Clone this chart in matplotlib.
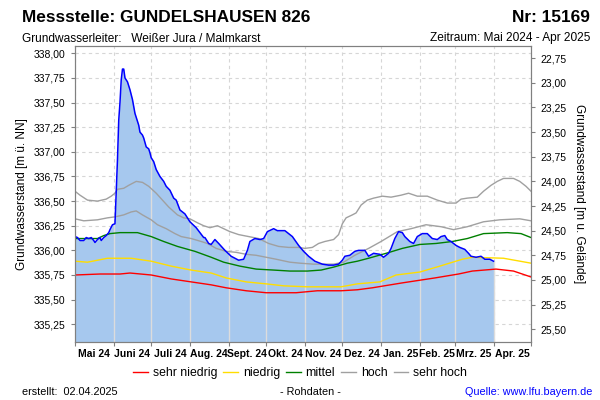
import numpy as np
import pandas as pd
import matplotlib
matplotlib.use('Agg')
import matplotlib.pyplot as plt
import matplotlib.dates as mdates
from matplotlib.lines import Line2D
from matplotlib.ticker import FuncFormatter

plt.rcParams['font.family'] = ['Liberation Sans', 'DejaVu Sans']

mess_datum = ['2024-05-01', '2024-05-03', '2024-05-05', '2024-05-08', '2024-05-10', '2024-05-12',
              '2024-05-14', '2024-05-16', '2024-05-17', '2024-05-19', '2024-05-21', '2024-05-22',
              '2024-05-24', '2024-05-26', '2024-05-28', '2024-05-29', '2024-05-31', '2024-06-02',
              '2024-06-04', '2024-06-05', '2024-06-06', '2024-06-07', '2024-06-08', '2024-06-09',
              '2024-06-10', '2024-06-12', '2024-06-13', '2024-06-14', '2024-06-16', '2024-06-17',
              '2024-06-18', '2024-06-20', '2024-06-21', '2024-06-22', '2024-06-24', '2024-06-25',
              '2024-06-27', '2024-06-29', '2024-06-30', '2024-07-01', '2024-07-03', '2024-07-05',
              '2024-07-08', '2024-07-11', '2024-07-13', '2024-07-16', '2024-07-19', '2024-07-21',
              '2024-07-24', '2024-07-28', '2024-08-01', '2024-08-06', '2024-08-12', '2024-08-13',
              '2024-08-16', '2024-08-18', '2024-08-21', '2024-08-24', '2024-08-29', '2024-09-03',
              '2024-09-09', '2024-09-13', '2024-09-16', '2024-09-18', '2024-09-22', '2024-09-26',
              '2024-09-29', '2024-10-02', '2024-10-07', '2024-10-10', '2024-10-16', '2024-10-22',
              '2024-10-27', '2024-10-31', '2024-11-04', '2024-11-09', '2024-11-15', '2024-11-20',
              '2024-11-24', '2024-11-28', '2024-12-01', '2024-12-03', '2024-12-07', '2024-12-11',
              '2024-12-14', '2024-12-17', '2024-12-19', '2024-12-22', '2024-12-26', '2024-12-31',
              '2025-01-03', '2025-01-07', '2025-01-09', '2025-01-12', '2025-01-15', '2025-01-18',
              '2025-01-20', '2025-01-24', '2025-01-27', '2025-01-30', '2025-02-03', '2025-02-07',
              '2025-02-11', '2025-02-15', '2025-02-18', '2025-02-21', '2025-02-23', '2025-02-26',
              '2025-03-02', '2025-03-05', '2025-03-09', '2025-03-12', '2025-03-14', '2025-03-18',
              '2025-03-22', '2025-03-25', '2025-03-29', '2025-04-01']
mess_wert = [336.14, 336.13, 336.10, 336.10, 336.13, 336.12,
             336.13, 336.10, 336.08, 336.11, 336.13, 336.10,
             336.13, 336.15, 336.18, 336.21, 336.26, 336.27,
             336.92, 337.32, 337.50, 337.73, 337.84, 337.84,
             337.75, 337.71, 337.67, 337.63, 337.53, 337.46,
             337.39, 337.31, 337.27, 337.20, 337.17, 337.14,
             337.05, 337.03, 336.99, 336.94, 336.90, 336.82,
             336.75, 336.70, 336.65, 336.61, 336.53, 336.51,
             336.41, 336.37, 336.29, 336.23, 336.13, 336.13,
             336.07, 336.06, 336.11, 336.07, 336.00, 335.94,
             335.90, 335.91, 336.00, 336.09, 336.12, 336.11,
             336.12, 336.19, 336.22, 336.20, 336.20, 336.14,
             336.05, 335.99, 335.94, 335.89, 335.86, 335.85,
             335.85, 335.86, 335.90, 335.94, 335.95, 335.99,
             336.00, 336.00, 336.00, 335.94, 335.97, 335.96,
             335.93, 335.97, 336.02, 336.12, 336.19, 336.18,
             336.14, 336.09, 336.07, 336.14, 336.17, 336.17,
             336.12, 336.11, 336.14, 336.15, 336.11, 336.09,
             336.05, 336.03, 336.01, 335.97, 335.94, 335.93,
             335.94, 335.91, 335.91, 335.89]

# langjaehrige Kennlinien
sh_datum = ['2024-05-01', '2024-05-05', '2024-05-11', '2024-05-19', '2024-05-26', '2024-05-30',
            '2024-06-02', '2024-06-04', '2024-06-09', '2024-06-13', '2024-06-19', '2024-06-24',
            '2024-06-29', '2024-07-05', '2024-07-10', '2024-07-15', '2024-07-22', '2024-07-27',
            '2024-08-01', '2024-08-07', '2024-08-12', '2024-08-17', '2024-08-23', '2024-08-28',
            '2024-09-02', '2024-09-09', '2024-09-17', '2024-09-25', '2024-10-03', '2024-10-11',
            '2024-10-19', '2024-10-27', '2024-11-01', '2024-11-07', '2024-11-12', '2024-11-17',
            '2024-11-24', '2024-11-28', '2024-12-01', '2024-12-04', '2024-12-09', '2024-12-12',
            '2024-12-16', '2024-12-21', '2024-12-26', '2025-01-02', '2025-01-09', '2025-01-17',
            '2025-01-23', '2025-01-30', '2025-02-07', '2025-02-15', '2025-02-23', '2025-03-02',
            '2025-03-06', '2025-03-11', '2025-03-19', '2025-03-24', '2025-03-30', '2025-04-04',
            '2025-04-09', '2025-04-17', '2025-04-22', '2025-04-27', '2025-05-01']
sh_wert = [336.60, 336.56, 336.51, 336.50, 336.52, 336.55,
           336.58, 336.62, 336.63, 336.66, 336.70, 336.69,
           336.65, 336.58, 336.51, 336.44, 336.36, 336.33,
           336.32, 336.28, 336.25, 336.23, 336.25, 336.22,
           336.19, 336.16, 336.14, 336.12, 336.07, 336.04,
           336.03, 336.03, 336.02, 336.03, 336.07, 336.09,
           336.11, 336.16, 336.27, 336.33, 336.36, 336.38,
           336.46, 336.51, 336.53, 336.55, 336.54, 336.56,
           336.58, 336.55, 336.55, 336.51, 336.48, 336.48,
           336.52, 336.53, 336.54, 336.60, 336.66, 336.70,
           336.73, 336.73, 336.70, 336.65, 336.60]

h_datum = ['2024-05-01', '2024-05-08', '2024-05-19', '2024-05-27', '2024-06-02', '2024-06-09',
           '2024-06-15', '2024-06-19', '2024-06-24', '2024-07-01', '2024-07-06', '2024-07-13',
           '2024-07-20', '2024-07-25', '2024-08-02', '2024-08-10', '2024-08-15', '2024-08-22',
           '2024-08-30', '2024-09-07', '2024-09-15', '2024-09-23', '2024-10-01', '2024-10-09',
           '2024-10-20', '2024-10-28', '2024-11-08', '2024-11-16', '2024-11-24', '2024-12-02',
           '2024-12-11', '2024-12-22', '2025-01-01', '2025-01-14', '2025-01-25', '2025-02-06',
           '2025-02-18', '2025-02-28', '2025-03-11', '2025-03-24', '2025-04-06', '2025-04-22',
           '2025-05-01']
h_wert = [336.32, 336.30, 336.31, 336.33, 336.34, 336.36,
          336.39, 336.40, 336.36, 336.31, 336.26, 336.22,
          336.17, 336.14, 336.12, 336.09, 336.07, 336.02,
          335.99, 335.98, 335.96, 335.95, 335.93, 335.91,
          335.88, 335.87, 335.86, 335.86, 335.86, 335.88,
          335.95, 336.02, 336.09, 336.19, 336.22, 336.26,
          336.24, 336.21, 336.24, 336.29, 336.31, 336.32,
          336.30]

m_datum = ['2024-05-01', '2024-05-19', '2024-05-24', '2024-05-29', '2024-06-06', '2024-06-20',
           '2024-07-01', '2024-07-11', '2024-07-22', '2024-08-05', '2024-08-18', '2024-08-28',
           '2024-09-10', '2024-09-23', '2024-10-07', '2024-10-20', '2024-11-03', '2024-11-14',
           '2024-11-24', '2024-12-05', '2024-12-13', '2024-12-22', '2025-01-05', '2025-01-18',
           '2025-02-01', '2025-02-14', '2025-02-27', '2025-03-11', '2025-03-24', '2025-04-12',
           '2025-04-23', '2025-05-01']
m_wert = [336.12, 336.12, 336.15, 336.17, 336.18, 336.18,
          336.14, 336.09, 336.04, 335.99, 335.93, 335.88,
          335.84, 335.81, 335.80, 335.79, 335.79, 335.80,
          335.83, 335.87, 335.89, 335.92, 335.97, 336.02,
          336.06, 336.07, 336.09, 336.12, 336.17, 336.18,
          336.17, 336.13]

n_datum = ['2024-05-01', '2024-05-11', '2024-05-19', '2024-05-27', '2024-06-15', '2024-07-01',
           '2024-07-17', '2024-08-02', '2024-08-18', '2024-08-30', '2024-09-15', '2024-10-01',
           '2024-10-15', '2024-11-03', '2024-11-30', '2024-12-13', '2024-12-31', '2025-01-13',
           '2025-02-01', '2025-02-17', '2025-03-07', '2025-03-15', '2025-04-09', '2025-05-01']
n_wert = [335.89, 335.88, 335.90, 335.92, 335.92, 335.89,
          335.84, 335.80, 335.77, 335.72, 335.68, 335.66,
          335.64, 335.63, 335.63, 335.66, 335.68, 335.75,
          335.78, 335.84, 335.91, 335.93, 335.92, 335.87]

sn_datum = ['2024-05-01', '2024-05-21', '2024-06-06', '2024-06-14', '2024-07-01', '2024-07-17',
            '2024-08-02', '2024-08-18', '2024-08-30', '2024-09-15', '2024-10-01', '2024-10-25',
            '2024-11-11', '2024-11-30', '2024-12-13', '2024-12-25', '2025-01-18', '2025-02-13',
            '2025-03-04', '2025-03-15', '2025-04-03', '2025-04-17', '2025-05-01']
sn_wert = [335.75, 335.76, 335.76, 335.77, 335.75, 335.71,
           335.68, 335.65, 335.62, 335.59, 335.57, 335.57,
           335.59, 335.59, 335.60, 335.62, 335.67, 335.72,
           335.76, 335.79, 335.81, 335.79, 335.73]

monat_label = ['Mai 24', 'Juni 24', 'Juli 24', 'Aug. 24', 'Sept. 24', 'Okt. 24',
               'Nov. 24', 'Dez. 24', 'Jan. 25', 'Feb. 25', 'Mrz. 25', 'Apr. 25']
y_ticks = np.arange(335.25, 338.01, 0.25)
y2_ticks = np.arange(22.75, 25.51, 0.25)
gelaende = 360.70
y_min, y_max = 335.07, 338.074


def komma(v, pos):
    return f'{v:.2f}'.replace('.', ',')


fig = plt.figure(figsize=(6, 4), dpi=100)
ax = fig.add_axes([75 / 600, 58 / 400, 456 / 600, 296 / 400])

mx = mdates.date2num(pd.to_datetime(mess_datum))
ax.fill_between(mx, mess_wert, y_min, color='#a6c8ee', lw=0, zorder=1)

# Monatslinien in der Flaeche
monate = pd.date_range('2024-05-01', '2025-05-01', freq='MS')
mn = mdates.date2num(monate)
for m in mn[1:]:
    if m <= mx[-1]:
        ax.vlines(m, y_min, np.interp(m, mx, mess_wert), color='#dcdcdc', lw=1, zorder=1.5)

kennlinien = [
    (sh_datum, sh_wert, '#a0a0a0'),
    (h_datum, h_wert, '#a0a0a0'),
    (m_datum, m_wert, '#008000'),
    (n_datum, n_wert, '#ffdd00'),
    (sn_datum, sn_wert, '#ff0000'),
]
for d, w, c in kennlinien:
    ax.plot(mdates.date2num(pd.to_datetime(d)), w, color=c, lw=1.0, zorder=2)

ax.plot(mx, mess_wert, color='#0000ff', lw=1.1, zorder=3)

ax.set_xlim(mn[0], mn[-1])
ax.set_ylim(y_min, y_max)
ax.set_xticks(mn)
ax.set_xticklabels([])
mitte = (mn[:-1] + mn[1:]) / 2
ax.set_xticks(mitte, minor=True)
ax.set_xticklabels(monat_label, minor=True, fontsize=7.5, fontweight='bold')
ax.tick_params(axis='x', which='major', length=3, color='#808080')
ax.tick_params(axis='x', which='minor', length=0, pad=5)
ax.set_yticks(y_ticks)
ax.yaxis.set_major_formatter(FuncFormatter(komma))
ax.tick_params(axis='y', length=3, color='#808080', labelsize=7.5, pad=4)
ax.grid(True, which='major', color='#d6d6d6', linestyle=(0, (3, 3)), lw=0.8)
ax.set_axisbelow(True)
for s in ax.spines.values():
    s.set_color('#808080')

ax2 = ax.twinx()
ax2.set_ylim(gelaende - y_min, gelaende - y_max)
ax2.set_yticks(y2_ticks)
ax2.yaxis.set_major_formatter(FuncFormatter(komma))
ax2.tick_params(axis='y', length=3, color='#808080', labelsize=7.5, pad=4)
for s in ax2.spines.values():
    s.set_color('#808080')

fig.text(22 / 600, 1 - 194 / 400, 'Grundwasserstand [m ü. NN]', rotation=90,
         ha='center', va='center', fontsize=8.5)
fig.text(579 / 600, 1 - 194 / 400, 'Grundwasserstand [m u. Gelände]', rotation=270,
         ha='center', va='center', fontsize=8.5)

fig.text(22 / 600, 1 - 22 / 400, 'Messstelle: GUNDELSHAUSEN 826', fontsize=12.4,
         fontweight='bold', ha='left', va='baseline')
fig.text(590 / 600, 1 - 22 / 400, 'Nr: 15169', fontsize=12.4, fontweight='bold',
         ha='right', va='baseline')
fig.text(22 / 600, 1 - 41.5 / 400, 'Grundwasserleiter:   Weißer Jura / Malmkarst',
         fontsize=8.6, ha='left', va='baseline')
fig.text(590 / 600, 1 - 41.5 / 400, 'Zeitraum: Mai 2024 - Apr 2025',
         fontsize=8.6, ha='right', va='baseline')

namen = ['sehr niedrig', 'niedrig', 'mittel', 'hoch', 'sehr hoch']
farben = ['#ff0000', '#ffdd00', '#008000', '#a0a0a0', '#a0a0a0']
handles = [Line2D([], [], color=c, lw=1.0) for c in farben]
fig.legend(handles, namen, loc='center', bbox_to_anchor=(300 / 600, 1 - 373 / 400),
           ncol=5, frameon=False, fontsize=8.8, handlelength=1.2, handletextpad=0.4,
           columnspacing=0.5)

fig.text(22 / 600, 1 - 395 / 400, 'erstellt:  02.04.2025', fontsize=7.8,
         ha='left', va='baseline')
fig.text(310 / 600, 1 - 395 / 400, '- Rohdaten -', fontsize=7.8, ha='center', va='baseline')
fig.text(592 / 600, 1 - 395 / 400, 'Quelle: www.lfu.bayern.de', fontsize=7.8,
         ha='right', va='baseline', color='#0000ff')

fig.savefig('out.png', dpi=100)
